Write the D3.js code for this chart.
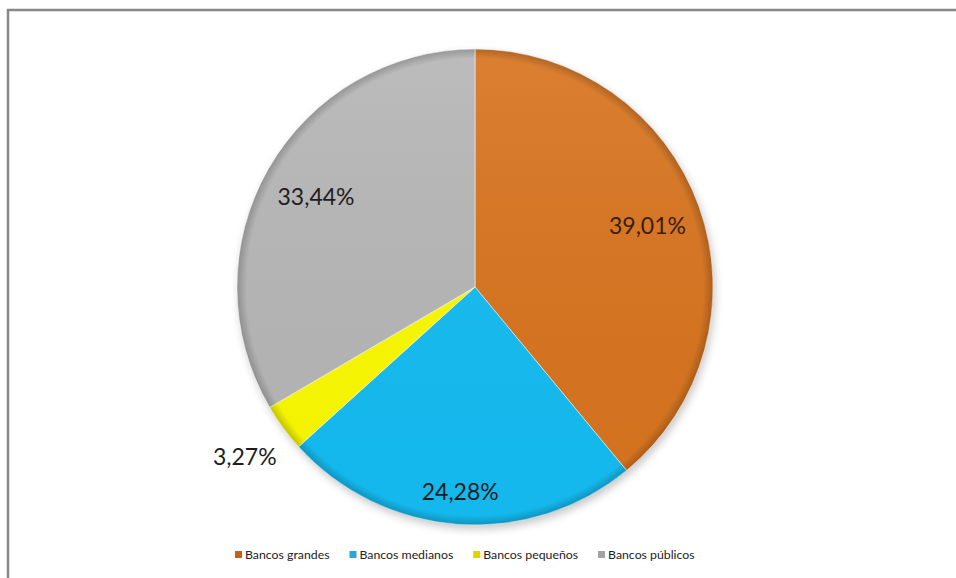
<!DOCTYPE html>
<html>
<head>
<meta charset="utf-8">
<script src="https://cdn.jsdelivr.net/npm/d3@7"></script>
<style>
  body { margin: 0; background: #fff; }
  svg { display: block; }
</style>
</head>
<body>
<div id="chart"></div>
<script>
// data
const categories = ['Bancos grandes', 'Bancos medianos', 'Bancos pequeños', 'Bancos públicos'];
const shares = [39.01, 24.28, 3.27, 33.44];
const labels = ['39,01%', '24,28%', '3,27%', '33,44%'];

const sliceColors = ['#d8741f', '#14bcf2', '#fafa00', '#b6b6b6'];
const legendColors = ['#c2621a', '#2aa6da', '#dcd600', '#a2a2a2'];
// how far out each label sits, as part of the radius
const labelRadius = [0.77, 0.86, 1.2, 0.77];

const W = 956, H = 578;
const cx = 475, cy = 287, r = 238;

const svg = d3.select('#chart').append('svg')
    .attr('width', W)
    .attr('height', H);

// frame, cut off at right and bottom like the screenshot
svg.append('rect')
    .attr('x', 8).attr('y', 10)
    .attr('width', W + 10).attr('height', H + 10)
    .attr('fill', '#fff')
    .attr('stroke', '#888')
    .attr('stroke-width', 2.5);

const defs = svg.append('defs');

const shadow = defs.append('filter').attr('id', 'blur')
    .attr('x', '-20%').attr('y', '-20%').attr('width', '140%').attr('height', '140%');
shadow.append('feGaussianBlur').attr('stdDeviation', 4);

// darker rim near the outer edge (coords are relative to the pie centre)
const rim = defs.append('radialGradient').attr('id', 'rim')
    .attr('gradientUnits', 'userSpaceOnUse')
    .attr('cx', 0).attr('cy', 0).attr('r', r);
rim.append('stop').attr('offset', '0%').attr('stop-color', '#000').attr('stop-opacity', 0);
rim.append('stop').attr('offset', '96%').attr('stop-color', '#000').attr('stop-opacity', 0);
rim.append('stop').attr('offset', '100%').attr('stop-color', '#000').attr('stop-opacity', 0.2);

// light from the top
const light = defs.append('linearGradient').attr('id', 'light')
    .attr('gradientUnits', 'userSpaceOnUse')
    .attr('x1', 0).attr('y1', -r).attr('x2', 0).attr('y2', r);
light.append('stop').attr('offset', '0%').attr('stop-color', '#fff').attr('stop-opacity', 0.08);
light.append('stop').attr('offset', '100%').attr('stop-color', '#000').attr('stop-opacity', 0.02);

const g = svg.append('g').attr('transform', `translate(${cx}, ${cy})`);

// soft shadow under the pie
g.append('circle')
    .attr('cx', 2).attr('cy', 4).attr('r', r)
    .attr('fill', '#000').attr('opacity', 0.22)
    .attr('filter', 'url(#blur)');

const pie = d3.pie().sort(null).value(d => d)(shares);
const arc = d3.arc().innerRadius(0).outerRadius(r);

const slices = g.selectAll('g.slice')
    .data(pie)
    .enter()
    .append('g')
    .classed('slice', true);

slices.append('path')
    .attr('d', arc)
    .attr('fill', (d, i) => sliceColors[i]);

slices.append('path')
    .attr('d', arc)
    .attr('fill', 'url(#light)');

slices.append('path')
    .attr('d', arc)
    .attr('fill', 'url(#rim)')
    .attr('stroke', 'rgba(255,255,255,0.5)')
    .attr('stroke-width', 1);

// labels
g.append('g').selectAll('text')
    .data(pie)
    .enter()
    .append('text')
    .attr('transform', (d, i) => {
        const a = (d.startAngle + d.endAngle) / 2;
        const rr = r * labelRadius[i];
        return `translate(${rr * Math.sin(a)}, ${-rr * Math.cos(a)})`;
    })
    .attr('text-anchor', 'middle')
    .attr('dominant-baseline', 'central')
    .style('font-family', 'Lato, "Open Sans", sans-serif')
    .style('font-size', '23px')
    .attr('fill', (d, i) => i === 0 ? '#3a1e08' : '#1e1e1e')
    .text((d, i) => labels[i]);

// legend
const legend = svg.append('g')
    .style('font-family', 'Lato, "Open Sans", sans-serif')
    .style('font-size', '12.3px');

const items = legend.selectAll('g')
    .data(categories)
    .enter()
    .append('g');

items.append('rect')
    .attr('width', 7).attr('height', 7)
    .attr('y', -4)
    .attr('fill', (d, i) => legendColors[i]);

items.append('text')
    .attr('x', 10)
    .attr('dy', '0.35em')
    .attr('fill', '#222')
    .text(d => d);

let xLeg = 235;
items.each(function () {
    const w = this.getBBox().width;
    d3.select(this).attr('transform', `translate(${xLeg}, 555)`);
    xLeg += w + 20;
});
</script>
</body>
</html>
